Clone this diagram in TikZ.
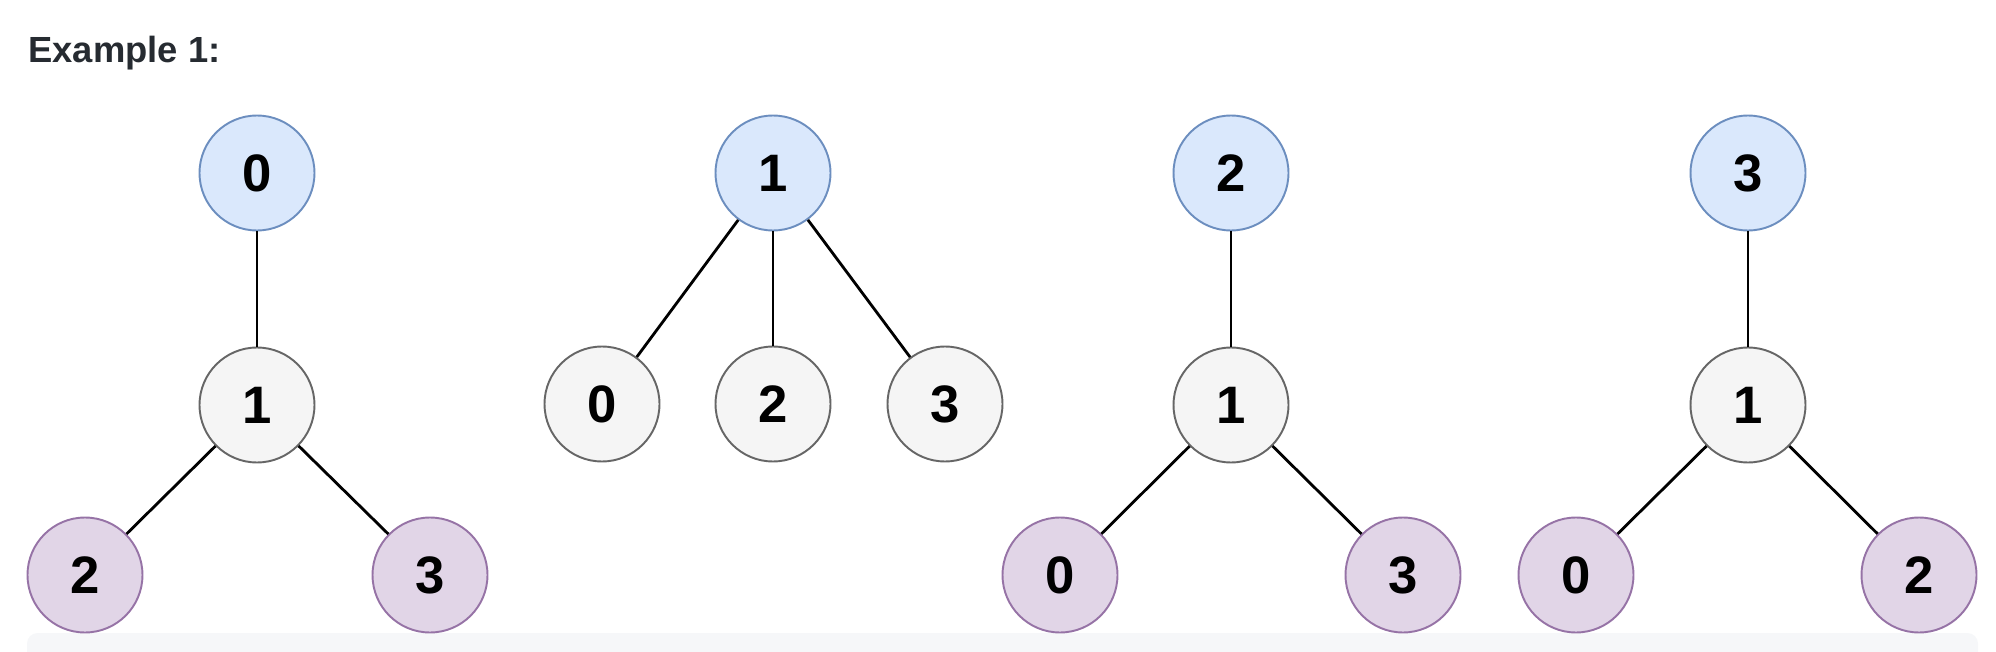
\documentclass[tikz,border=0pt]{standalone}
\usepackage{fontspec}
\setmainfont{Liberation Sans}
\usepackage{tikz}
\usetikzlibrary{positioning, calc, shapes}

\definecolor{rootfill}{HTML}{DAE8FC}
\definecolor{rootline}{HTML}{6C8EBF}
\definecolor{midfill}{HTML}{F5F5F5}
\definecolor{midline}{HTML}{666666}
\definecolor{leaffill}{HTML}{E1D5E7}
\definecolor{leafline}{HTML}{9673A6}
\definecolor{titlegray}{HTML}{262B31}
\definecolor{stripgray}{HTML}{F6F7F9}

\begin{document}
\begin{tikzpicture}[x=0.02cm, y=-0.02cm,
  vertex/.style={draw, circle, line width=1.1pt, minimum size=2.3cm, inner sep=0pt,
    font=\fontsize{30}{31}\selectfont\bfseries},
  rootnode/.style={vertex, fill=rootfill, draw=rootline},
  midnode/.style={vertex, fill=midfill, draw=midline},
  leafnode/.style={vertex, fill=leaffill, draw=leafline},
  link/.style={line width=1.6pt, black}]

  \useasboundingbox (0,0) rectangle (1996,652);

  % title and bottom strip

  \node[anchor=base west, inner sep=0pt, text=titlegray, font=\fontsize{20.7}{22}\selectfont\bfseries] (title) at (28,63) {Example 1:};
  \fill[stripgray, rounded corners=6] (27,633) rectangle (1978,670);

  % TREE rooted at 0

  \node[rootnode] (t1r) at (257,173) {0};
  \node[midnode] (t1m) at ($(t1r)+(0,232)$) {1};
  \node[leafnode] (t1a) at ($(t1m)+(-172,170)$) {2};
  \node[leafnode] (t1b) at ($(t1m)+(173,170)$) {3};
  \draw[link] (t1r) -- (t1m);
  \draw[link] (t1m) -- (t1a);
  \draw[link] (t1m) -- (t1b);

  % TREE rooted at 1

  \node[rootnode] (t2r) at (773,173) {1};
  \node[midnode] (t2a) at ($(t2r)+(-171,231)$) {0};
  \node[midnode] (t2b) at ($(t2r)+(0,231)$) {2};
  \node[midnode] (t2c) at ($(t2r)+(172,231)$) {3};
  \draw[link] (t2r) -- (t2a);
  \draw[link] (t2r) -- (t2b);
  \draw[link] (t2r) -- (t2c);

  % TREE rooted at 2

  \node[rootnode] (t3r) at (1231,173) {2};
  \node[midnode] (t3m) at ($(t3r)+(0,232)$) {1};
  \node[leafnode] (t3a) at ($(t3m)+(-171,170)$) {0};
  \node[leafnode] (t3b) at ($(t3m)+(172,170)$) {3};
  \draw[link] (t3r) -- (t3m);
  \draw[link] (t3m) -- (t3a);
  \draw[link] (t3m) -- (t3b);

  % TREE rooted at 3

  \node[rootnode] (t4r) at (1748,173) {3};
  \node[midnode] (t4m) at ($(t4r)+(0,232)$) {1};
  \node[leafnode] (t4a) at ($(t4m)+(-172,170)$) {0};
  \node[leafnode] (t4b) at ($(t4m)+(171,170)$) {2};
  \draw[link] (t4r) -- (t4m);
  \draw[link] (t4m) -- (t4a);
  \draw[link] (t4m) -- (t4b);

\end{tikzpicture}
\end{document}
